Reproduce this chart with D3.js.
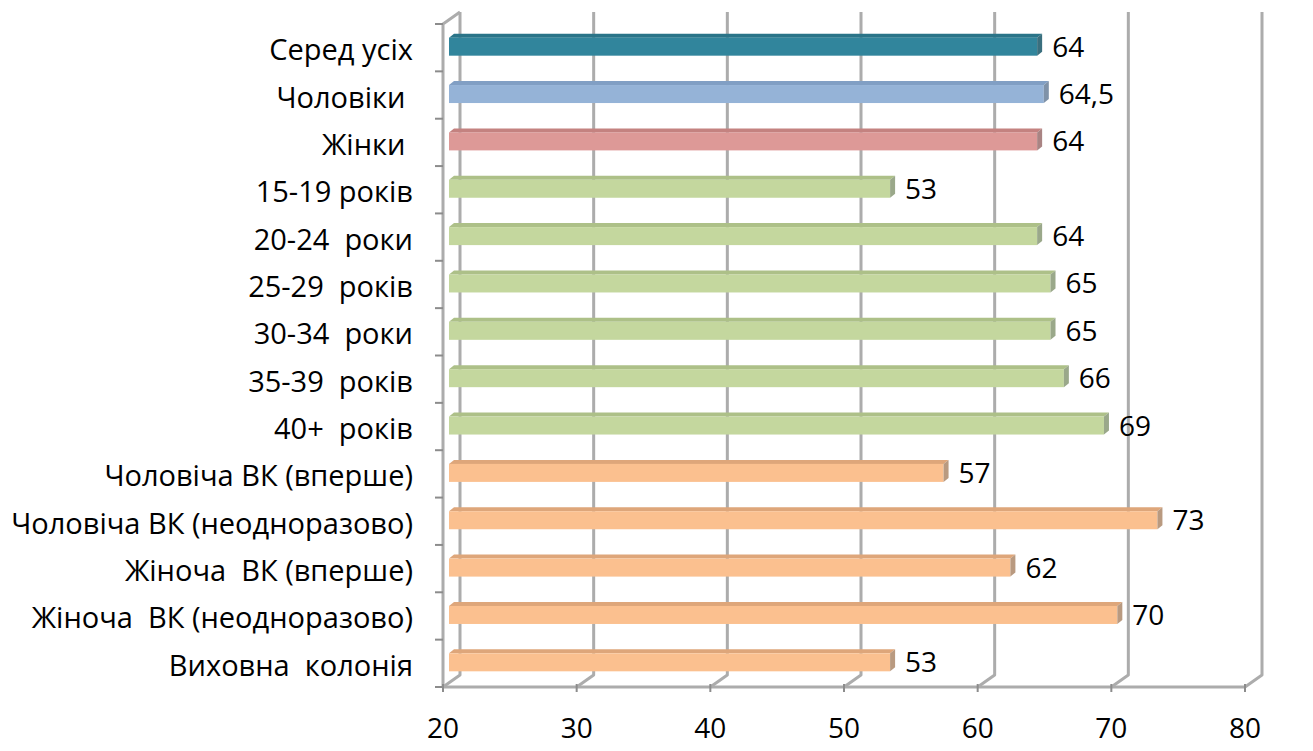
<!DOCTYPE html>
<html>
<head>
<meta charset="utf-8">
<script src="https://cdn.jsdelivr.net/npm/d3@7"></script>
<style>
  html, body { margin: 0; padding: 0; background: #ffffff; }
  svg text { font-family: "Open Sans", "Noto Sans", sans-serif; fill: #000; white-space: pre; }
</style>
</head>
<body>
<svg id="chart" width="1313" height="751" xml:space="preserve"></svg>
<script>
// Categories (top to bottom) and their values
const categories = [
  "Серед усіх", "Чоловіки ", "Жінки ",
  "15-19 років", "20-24  роки", "25-29  років", "30-34  роки", "35-39  років", "40+  років",
  "Чоловіча ВК (вперше)", "Чоловіча ВК (неодноразово)",
  "Жіноча  ВК (вперше)", "Жіноча  ВК (неодноразово)", "Виховна  колонія"
];
const values = [64, 64.5, 64, 53, 64, 65, 65, 66, 69, 57, 73, 62, 70, 53];
const valueLabels = ["64", "64,5", "64", "53", "64", "65", "65", "66", "69", "57", "73", "62", "70", "53"];
const groups = ["all", "men", "women", "age", "age", "age", "age", "age", "age",
                "col", "col", "col", "col", "col"];
const xTicks = [20, 30, 40, 50, 60, 70, 80];

// Colour per group: front face, top face, end face
const palette = {
  all:   { front: "#31859c", top: "#2a7488", end: "#3a6f7e" },
  men:   { front: "#95b3d7", top: "#819fc4", end: "#7f92a8" },
  women: { front: "#dd9997", top: "#c48280", end: "#a98483" },
  age:   { front: "#c4d79e", top: "#adc088", end: "#9aa88a" },
  col:   { front: "#fbc08f", top: "#dea67a", end: "#b99a80" }
};

const svg = d3.select("#chart");

// Front plane of the 3D box
const plotLeft = 443, plotRight = 1245, plotTop = 24, plotBottom = 687;
// Depth offset of the back wall
const depthX = 17, depthY = -12;

const x = d3.scaleLinear().domain([20, 80]).range([plotLeft, plotRight]);
const y = d3.scaleBand().domain(d3.range(categories.length)).range([plotTop, plotBottom]).padding(0);

const gridColor = "#acacac";

// Back-wall gridlines with their floor diagonals
const grid = svg.append("g");
xTicks.forEach(t => {
  const fx = x(t), bx = fx + depthX;
  grid.append("path")
    .attr("d", `M${bx},${plotTop + depthY} L${bx},${plotBottom + depthY} L${fx},${plotBottom}`)
    .attr("fill", "none").attr("stroke", gridColor).attr("stroke-width", 3)
    .attr("stroke-linejoin", "round");
});

// Left axis (front edge) with top diagonal
svg.append("path")
  .attr("d", `M${plotLeft + depthX},${plotTop + depthY} L${plotLeft},${plotTop} L${plotLeft},${plotBottom}`)
  .attr("fill", "none").attr("stroke", gridColor).attr("stroke-width", 3);

// Bottom axis (front edge)
svg.append("line")
  .attr("x1", plotLeft).attr("x2", plotRight).attr("y1", plotBottom).attr("y2", plotBottom)
  .attr("stroke", gridColor).attr("stroke-width", 3);

// Category tick marks on the left axis
d3.range(categories.length + 1).forEach(i => {
  const ty = plotTop + i * y.step();
  svg.append("line")
    .attr("x1", plotLeft - 8).attr("x2", plotLeft).attr("y1", ty).attr("y2", ty)
    .attr("stroke", "#8c8c8c").attr("stroke-width", 2);
});

// Value tick marks on the bottom axis
xTicks.forEach(t => {
  svg.append("line")
    .attr("x1", x(t)).attr("x2", x(t)).attr("y1", plotBottom - 3).attr("y2", plotBottom + 5)
    .attr("stroke", "#8c8c8c").attr("stroke-width", 2);
});

// Bars drawn as thin 3D slabs
const barOffsetX = 6;       // shift into the depth of the box
const faceH = 18;           // front face height
const capX = 5, capY = 4;   // visible top / end depth

const bars = svg.append("g");
values.forEach((v, i) => {
  const c = palette[groups[i]];
  const cy = y(i) + y.bandwidth() / 2 - 1;
  const x0 = x(20) + barOffsetX;
  const x1 = x(v) + barOffsetX;
  const y0 = cy - faceH / 2, y1 = cy + faceH / 2;
  const g = bars.append("g");
  // top face
  g.append("polygon")
    .attr("points", [[x0, y0], [x0 + capX, y0 - capY], [x1 + capX, y0 - capY], [x1, y0]].join(" "))
    .attr("fill", c.top);
  // front face
  g.append("rect")
    .attr("x", x0).attr("y", y0).attr("width", x1 - x0).attr("height", faceH)
    .attr("fill", c.front);
  // end face
  g.append("polygon")
    .attr("points", [[x1, y0], [x1 + capX, y0 - capY], [x1 + capX, y1 - capY], [x1, y1]].join(" "))
    .attr("fill", c.end);
  // value label
  svg.append("text")
    .attr("x", x1 + capX + 10).attr("y", cy - 1)
    .attr("dominant-baseline", "central")
    .attr("font-size", 28)
    .text(valueLabels[i]);
});

// Category labels
categories.forEach((name, i) => {
  svg.append("text")
    .attr("x", 413).attr("y", y(i) + y.bandwidth() / 2 + 1)
    .attr("text-anchor", "end")
    .attr("dominant-baseline", "central")
    .attr("font-size", 29)
    .text(name);
});

// Value axis labels
xTicks.forEach(t => {
  svg.append("text")
    .attr("x", x(t)).attr("y", 727)
    .attr("text-anchor", "middle")
    .attr("dominant-baseline", "central")
    .attr("font-size", 28)
    .text(t);
});
</script>
</body>
</html>
